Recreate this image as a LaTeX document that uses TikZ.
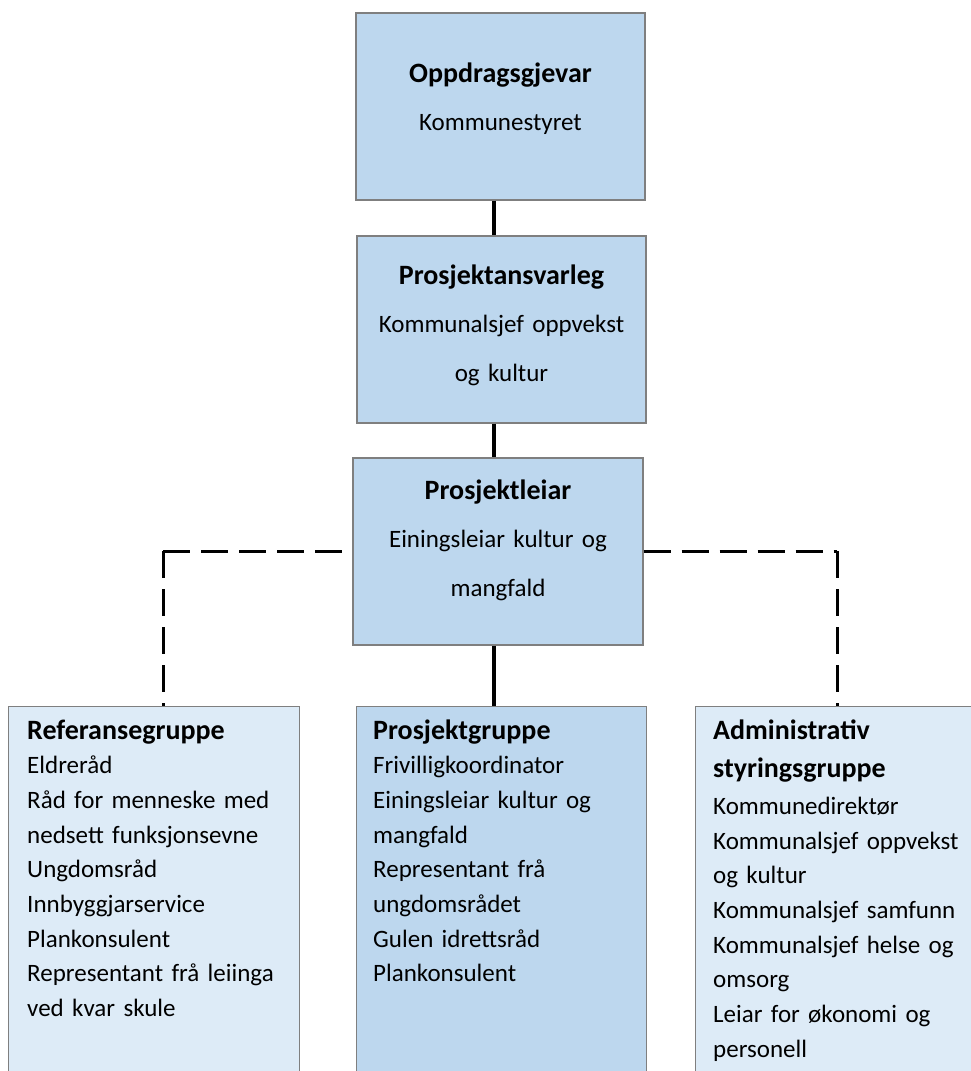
\documentclass[tikz,border=0pt]{standalone}
\usepackage{fontspec}
\setmainfont{Carlito}
\definecolor{topblue}{HTML}{BDD7EE}
\definecolor{paleblue}{HTML}{DDEBF7}
\definecolor{edgegray}{HTML}{7F7F7F}
\newcommand\hd[1]{{\fontsize{28}{34.7}\selectfont\bfseries #1}}
\tikzset{
  boxbase/.style={draw=edgegray, line width=1.3pt, rectangle, inner sep=0pt},
  topbox/.style={boxbase, fill=topblue, minimum width=289pt, minimum height=187pt},
  toptext/.style={text width=285pt, align=center, inner sep=0pt, font=\fontsize{25}{48.5}\selectfont},
  lst/.style={text width=275pt, align=left, inner sep=0pt, font=\fontsize{25}{34.7}\selectfont},
  solidlink/.style={line width=3.5pt, black},
  dashlink/.style={line width=3pt, black, dash pattern=on 27pt off 11pt}
}
\begin{document}
\begin{tikzpicture}[x=1pt,y=-1pt]
\useasboundingbox (0,0) rectangle (971,1071);
\clip (0,0) rectangle (971,1071);
\fill[white] (0,0) rectangle (971,1071);

% top chain
\node[topbox] (b1) at (500.5,106.5) {};
\node[topbox] (b2) at (501.5,329.5) {};
\node[topbox, minimum width=290pt] (b3) at (498,551.5) {};

\node[toptext, anchor=base] (t1) at ([yshift=-70pt]b1.north) {\hd{Oppdragsgjevar}\\Kommunestyret};
\node[toptext, anchor=base] (t2) at ([yshift=-49pt]b2.north) {\hd{Prosjektansvarleg}\\Kommunalsjef oppvekst\\og kultur};
\node[toptext, anchor=base] (t3) at ([yshift=-42pt]b3.north) {\hd{Prosjektleiar}\\Einingsleiar kultur og\\mangfald};

% bottom groups
\node[boxbase, fill=paleblue, minimum width=291pt, minimum height=420pt, anchor=north west] (ref) at (8,706) {};
\node[boxbase, fill=topblue, minimum width=290pt, minimum height=420pt, anchor=north west] (prg) at (356,706) {};
\node[boxbase, fill=paleblue, minimum width=300pt, minimum height=420pt, anchor=north west] (adm) at (695,706) {};

\node[lst, anchor=base west] (reft) at ([xshift=19pt,yshift=-33pt]ref.north west)
  {\hd{Referansegruppe}\\Eldreråd\\Råd for menneske med\\nedsett funksjonsevne\\Ungdomsråd\\Innbyggjarservice\\Plankonsulent\\Representant frå leiinga\\ved kvar skule};
\node[lst, anchor=base west] (prgt) at ([xshift=17pt,yshift=-33pt]prg.north west)
  {\hd{Prosjektgruppe}\\Frivilligkoordinator\\Einingsleiar kultur og\\mangfald\\Representant frå\\ungdomsrådet\\Gulen idrettsråd\\Plankonsulent};
\node[lst, anchor=base west] (admt) at ([xshift=18pt,yshift=-33pt]adm.north west)
  {\hd{Administrativ}\\[4pt]\hd{styringsgruppe}\\[2pt]Kommunedirektør\\Kommunalsjef oppvekst\\og kultur\\Kommunalsjef samfunn\\Kommunalsjef helse og\\omsorg\\Leiar for økonomi og\\personell};

% solid connectors
\draw[solidlink] ([xshift=-6.5pt]b1.south) -- ([xshift=-6.5pt]b1.south |- b2.north);
\draw[solidlink] ([xshift=-7.5pt]b2.south) -- ([xshift=-7.5pt]b2.south |- b3.north);
\draw[solidlink] ([xshift=-4pt]b3.south) -- ([xshift=-4pt]b3.south |- prg.north);

% dashed connectors
\coordinate (cl) at (163,551);
\coordinate (cr) at (837,551);
\draw[dashlink] (cl) -- (cl -| b3.west);
\draw[dashlink] (cl) -- (cl |- ref.north);
\draw[dashlink] (b3.east |- cr) -- (cr);
\draw[dashlink] (cr) -- (cr |- adm.north);
\end{tikzpicture}
\end{document}
